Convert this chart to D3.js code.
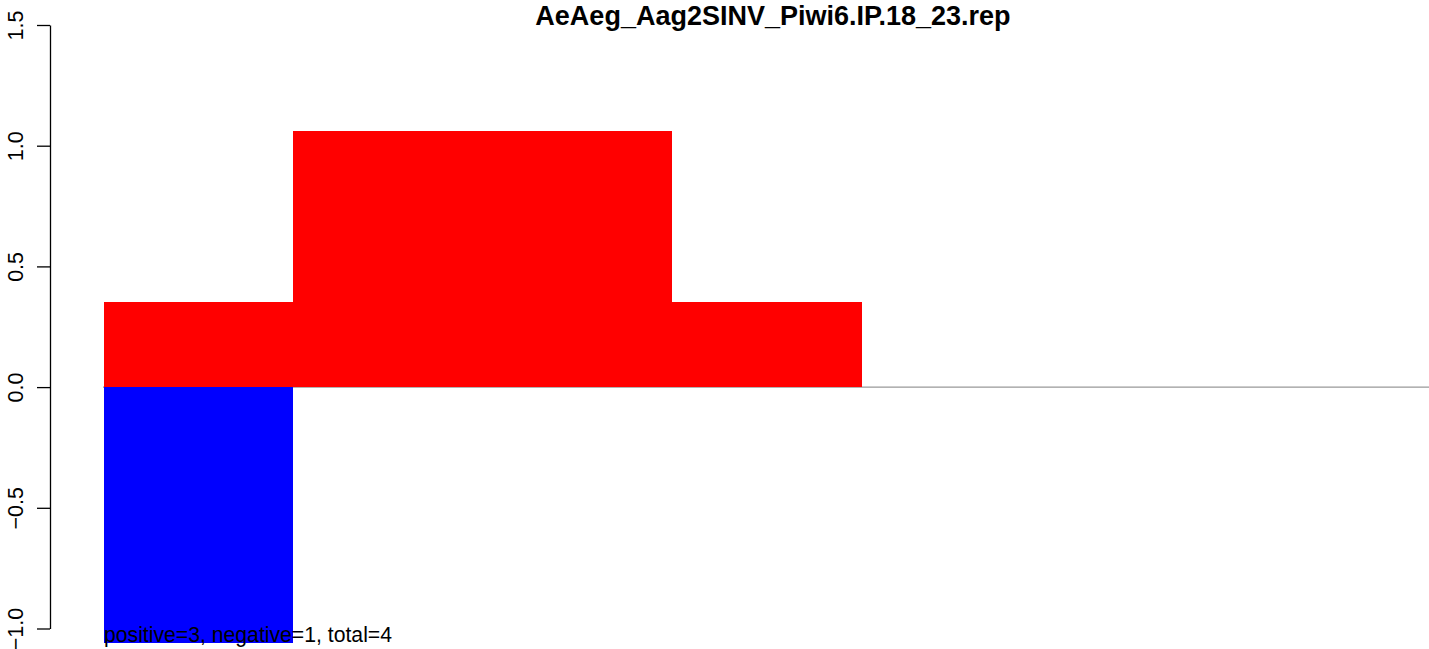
<!DOCTYPE html>
<html>
<head>
<meta charset="utf-8">
<script src="https://cdn.jsdelivr.net/npm/d3@7"></script>
<style>
  body { margin: 0; background: #fff; }
  text { font-family: "Liberation Sans", Arial, sans-serif; }
</style>
</head>
<body>
<svg width="1429" height="649"></svg>
<script>
// Data
const bins = [1, 2, 3, 4, 5, 6, 7];
const positive = [0.353, 1.06, 1.06, 0.353, 0, 0, 0];
const negative = [-1.06, 0, 0, 0, 0, 0, 0];
const yTicks = [-1.0, -0.5, 0.0, 0.5, 1.0, 1.5];
const title = "AeAeg_Aag2SINV_Piwi6.IP.18_23.rep";
const note = "positive=3, negative=1, total=4";

const svg = d3.select("svg"),
  width = +svg.attr("width"),
  height = +svg.attr("height");

// Scales
const x = d3.scaleLinear()
  .domain([0, bins.length])
  .range([104, 1429]);

const y = d3.scaleLinear()
  .domain([-1.0, 1.5])
  .range([628.5, 25]);

// Zero line
svg.append("line")
  .attr("x1", x(0) - 1)
  .attr("x2", width)
  .attr("y1", y(0))
  .attr("y2", y(0))
  .attr("stroke", "#999")
  .attr("stroke-width", 1.3);

// Positive bars
svg.append("g")
  .attr("shape-rendering", "crispEdges")
  .selectAll("rect")
  .data(bins.map((b, i) => ({ b, v: positive[i] })).filter(d => d.v > 0))
  .join("rect")
  .attr("x", d => x(d.b - 1))
  .attr("width", d => x(d.b) - x(d.b - 1) + 0.5)
  .attr("y", d => y(d.v))
  .attr("height", d => y(0) - y(d.v))
  .attr("fill", "#ff0000");

// Negative bars
svg.append("g")
  .attr("shape-rendering", "crispEdges")
  .selectAll("rect")
  .data(bins.map((b, i) => ({ b, v: negative[i] })).filter(d => d.v < 0))
  .join("rect")
  .attr("x", d => x(d.b - 1))
  .attr("width", d => x(d.b) - x(d.b - 1))
  .attr("y", y(0))
  .attr("height", d => y(d.v) - y(0))
  .attr("fill", "#0000ff");

// Y axis, R style with rotated labels
const yAxis = svg.append("g")
  .attr("transform", "translate(50,0)")
  .call(d3.axisLeft(y)
    .tickValues(yTicks)
    .tickSize(13)
    .tickSizeOuter(0)
    .tickFormat(d3.format(".1f")));

yAxis.select(".domain")
  .attr("stroke", "#000")
  .attr("stroke-width", 1.3);
yAxis.selectAll(".tick line")
  .attr("stroke", "#000")
  .attr("stroke-width", 1.3);
yAxis.selectAll(".tick text")
  .attr("transform", "rotate(-90)")
  .attr("x", 0)
  .attr("y", -27)
  .attr("dy", null)
  .attr("text-anchor", "middle")
  .style("font-size", "21.5px")
  .style("font-family", "Liberation Sans, Arial, sans-serif")
  .attr("fill", "#000");

// Title (kept just inside the top edge)
svg.append("text")
  .attr("x", 773)
  .attr("y", 25)
  .attr("text-anchor", "middle")
  .style("font-size", "27px")
  .style("font-weight", "bold")
  .text(title);

// Bottom note
svg.append("text")
  .attr("x", 104)
  .attr("y", 642)
  .style("font-size", "21.2px")
  .text(note);
</script>
</body>
</html>
